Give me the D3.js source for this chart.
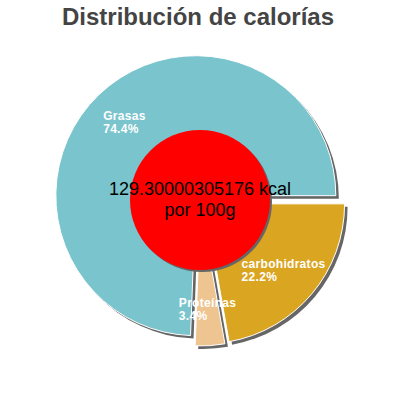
<!DOCTYPE html>
<html>
<head>
<meta charset="utf-8">
<script src="https://cdn.jsdelivr.net/npm/d3@7"></script>
<style>
  body { margin: 0; background: #fff; }
  text { font-family: "Liberation Sans", Arial, sans-serif; }
</style>
</head>
<body>
<div id="chart"></div>
<script>
// data
var labels = ["Grasas", "Proteínas", "carbohidratos"];
var values = [74.4, 3.4, 22.2];
var colors = ["#7AC5CD", "#EEC591", "#DAA520"];
var centerLines = ["129.30000305176 kcal", "por 100g"];
var title = "Distribución de calorías";

var width = 400, height = 400;
var cx = 200, cy = 200;
var radius = 140, holeRadius = 70, explode = 6, labelRadius = 103;
var shadow = { dx: 3, dy: 3, color: "#666" };

var svg = d3.select("#chart").append("svg")
    .attr("width", width)
    .attr("height", height);

svg.append("text")
    .attr("x", 198)
    .attr("y", 25)
    .attr("text-anchor", "middle")
    .style("font-size", "24px")
    .style("font-weight", "bold")
    .style("fill", "#444")
    .text(title);

var data = labels.map(function(l, i) { return { label: l, value: values[i], color: colors[i] }; });

// counter-clockwise from 3 o'clock, like the picture
var pie = d3.pie()
    .sort(null)
    .value(function(d) { return d.value; })
    .startAngle(Math.PI / 2 + 2 * Math.PI)
    .endAngle(Math.PI / 2);

var arc = d3.arc().innerRadius(0).outerRadius(radius);
var arcs = pie(data);

function offset(d) {
    var a = (d.startAngle + d.endAngle) / 2;
    return [explode * Math.sin(a), -explode * Math.cos(a)];
}

var g = svg.append("g").attr("transform", "translate(" + cx + "," + cy + ")");

// shadows
g.append("g").selectAll("path")
    .data(arcs)
    .enter()
    .append("path")
        .attr("d", arc)
        .attr("transform", function(d) {
            var o = offset(d);
            return "translate(" + (o[0] + shadow.dx) + "," + (o[1] + shadow.dy) + ")";
        })
        .attr("fill", shadow.color);

// slices
g.append("g").selectAll("path")
    .data(arcs)
    .enter()
    .append("path")
        .attr("d", arc)
        .attr("transform", function(d) { var o = offset(d); return "translate(" + o[0] + "," + o[1] + ")"; })
        .attr("fill", function(d) { return d.data.color; })
        .attr("stroke", "#fff")
        .attr("stroke-width", 1);

// centre disc
g.append("circle")
    .attr("cx", shadow.dx - 1)
    .attr("cy", shadow.dy - 1)
    .attr("r", holeRadius)
    .attr("fill", shadow.color);
g.append("circle")
    .attr("r", holeRadius)
    .attr("fill", "#ff0000");

g.selectAll("text.center")
    .data(centerLines)
    .enter()
    .append("text")
        .attr("class", "center")
        .attr("x", 0)
        .attr("y", function(d, i) { return -5.5 + i * 21; })
        .attr("text-anchor", "middle")
        .style("font-size", "18px")
        .style("fill", "#000")
        .text(function(d) { return d; });

// slice labels, left aligned block centred on the label point
var labelArc = d3.arc().innerRadius(labelRadius).outerRadius(labelRadius);
arcs.forEach(function(d) {
    var o = offset(d);
    var c = labelArc.centroid(d);
    var px = c[0] + o[0], py = c[1] + o[1];
    var lines = [d.data.label, d3.format(".1f")(d.data.value) + "%"];
    var texts = lines.map(function(s, i) {
        return g.append("text")
            .attr("y", py - 2 + i * 13)
            .style("font-size", "12px")
            .style("font-weight", "bold")
            .style("letter-spacing", "0.3px")
            .style("fill", "#fff")
            .text(s);
    });
    var w = d3.max(texts, function(s) { return s.node().getComputedTextLength(); });
    texts.forEach(function(s) { s.attr("x", px - w / 2); });
});
</script>
</body>
</html>
